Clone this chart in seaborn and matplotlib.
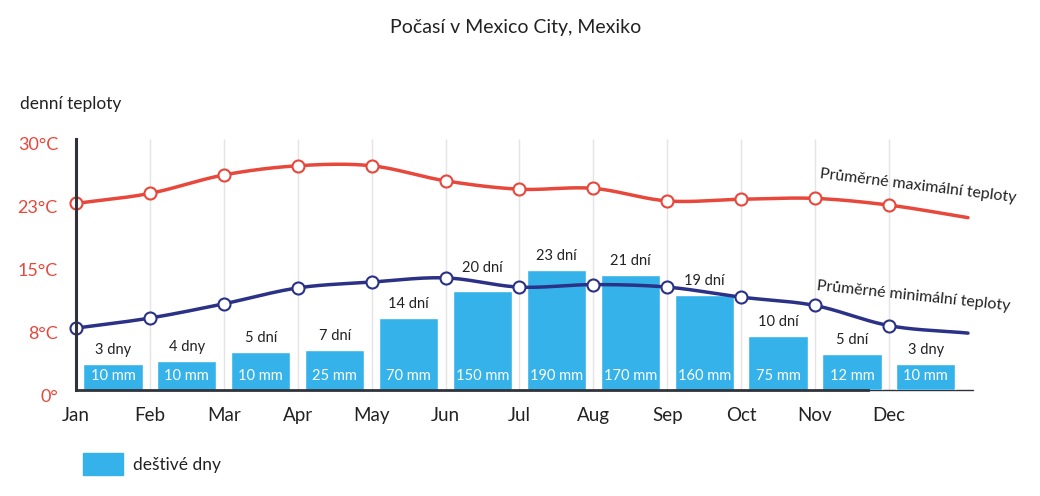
import numpy as np
import pandas as pd
import matplotlib
matplotlib.use("Agg")
import matplotlib.pyplot as plt
import matplotlib.transforms as mtransforms
import seaborn as sns
from matplotlib.patches import Rectangle

months = ["Jan", "Feb", "Mar", "Apr", "May", "Jun",
          "Jul", "Aug", "Sep", "Oct", "Nov", "Dec"]
max_temp = [22.3, 23.5, 25.7, 26.8, 26.8, 25.0, 24.0, 24.1, 22.6, 22.8, 22.9, 22.1]
min_temp = [7.4, 8.6, 10.3, 12.2, 12.9, 13.4, 12.3, 12.6, 12.3, 11.1, 10.1, 7.7]
# where both curves run out, a little past December
tail_month = 12.07
max_tail = 20.6
min_tail = 6.8
rain_days = ["3 dny", "4 dny", "5 dní", "7 dní", "14 dní", "20 dní",
             "23 dní", "21 dní", "19 dní", "10 dní", "5 dní", "3 dny"]
rain_mm = ["10 mm", "10 mm", "10 mm", "25 mm", "70 mm", "150 mm",
           "190 mm", "170 mm", "160 mm", "75 mm", "12 mm", "10 mm"]
# bar height as drawn, on the temperature scale
bar_level = [3.1, 3.5, 4.5, 4.8, 8.6, 11.8, 14.3, 13.8, 11.4, 6.5, 4.3, 3.1]
temp_ticks = [0, 7.5, 15, 22.5, 30]
temp_labels = ["0°", "8°C", "15°C", "23°C", "30°C"]

RED = "#e8473b"
NAVY = "#2a3186"
BLUE = "#35b2e9"
DARK = "#2f323a"
TXT = "#222222"


def smooth(xp, yp, n=40):
    # cubic hermite through the points, slopes from finite differences
    xp = np.asarray(xp, float)
    yp = np.asarray(yp, float)
    m = np.gradient(yp, xp)
    t = np.linspace(0, 1, n)
    h00 = 2 * t**3 - 3 * t**2 + 1
    h10 = t**3 - 2 * t**2 + t
    h01 = -2 * t**3 + 3 * t**2
    h11 = t**3 - t**2
    xs, ys = [], []
    for i in range(len(xp) - 1):
        h = xp[i + 1] - xp[i]
        xs.append(xp[i] + t * h)
        ys.append(h00 * yp[i] + h10 * h * m[i] + h01 * yp[i + 1] + h11 * h * m[i + 1])
    return np.concatenate(xs), np.concatenate(ys)


sns.set_style("white")
plt.rcParams["font.family"] = ["Lato", "DejaVu Sans"]

fig = plt.figure(figsize=(10.4, 4.96), dpi=100)
ax = fig.add_axes([76 / 1040, 106 / 496, 924 / 1040, 251 / 496])

month_x = np.arange(12)
bars = pd.DataFrame({"x": month_x + 0.5, "level": bar_level})
sns.barplot(data=bars, x="x", y="level", native_scale=True, width=0.8,
            color=BLUE, saturation=1, ax=ax, zorder=2)

# light vertical month lines
ax.vlines(month_x[1:], 0, 30, color="#e4e4e4", lw=1, zorder=0)

for vals, tail, col in [(max_temp, max_tail, RED), (min_temp, min_tail, NAVY)]:
    xs, ys = smooth(list(month_x) + [tail_month], list(vals) + [tail])
    sns.lineplot(x=xs, y=ys, color=col, lw=2.5, sort=False, ax=ax, zorder=3)
    sns.scatterplot(x=month_x, y=vals, s=75, color="white", edgecolor=col,
                    linewidth=1.5, ax=ax, zorder=4, clip_on=False)

for i in range(12):
    lift = 12 if i == 5 else 5
    ax.annotate(rain_days[i], (i + 0.5, bar_level[i]), xytext=(0, lift),
                textcoords="offset points", ha="center", va="bottom",
                fontsize=10.5, color=TXT)
    ax.text(i + 0.5, 1.7, rain_mm[i], ha="center", va="center",
            fontsize=10.5, color="white", zorder=5)

ax.text(11.4, 24.4, "Průměrné maximální teploty", rotation=-7,
        ha="center", va="center", fontsize=11.5, color=TXT)
ax.text(11.33, 11.2, "Průměrné minimální teploty", rotation=-6,
        ha="center", va="center", fontsize=11.5, color=TXT)

ax.set_xlim(0, 924 / 73.9)
ax.set_ylim(0, 30)
ax.set_xlabel("")
ax.set_ylabel("")
sns.despine(ax=ax)
ax.spines["left"].set_color(DARK)
ax.spines["left"].set_linewidth(2.2)
ax.spines["left"].set_zorder(6)
ax.spines["bottom"].set_color(DARK)
ax.spines["bottom"].set_linewidth(2)
ax.spines["bottom"].set_bounds(0, 10.72)
ax.plot([10.72, 12.14], [0, 0], color=DARK, lw=1, clip_on=False, zorder=1)

ax.set_xticks(month_x)
ax.set_xticklabels(months)
ax.tick_params(axis="x", direction="inout", length=11, width=2, color=DARK,
               pad=7, labelsize=13.5, labelcolor=TXT)
ax.set_yticks(temp_ticks)
ax.set_yticklabels(temp_labels)
ax.tick_params(axis="y", direction="inout", length=10, width=2.2, color=DARK,
               pad=8, labelsize=13, labelcolor=RED)
# the degree labels sit a little under their ticks
shift = mtransforms.ScaledTranslation(0, -5 / 100, fig.dpi_scale_trans)
for lab in ax.get_yticklabels():
    lab.set_transform(lab.get_transform() + shift)

fig.text(516 / 1040, 1 - 28 / 496, "Počasí v Mexico City, Mexiko",
         ha="center", va="center", fontsize=14, color=TXT)
fig.text(20 / 1040, 1 - 104 / 496, "denní teploty",
         ha="left", va="center", fontsize=12.5, color=TXT)

fig.add_artist(Rectangle((83 / 1040, 1 - 475 / 496), 40 / 1040, 22 / 496,
                         transform=fig.transFigure, color=BLUE))
fig.text(133 / 1040, 1 - 465 / 496, "deštivé dny",
         ha="left", va="center", fontsize=12.5, color=TXT)

fig.savefig("out.png", dpi=100)
